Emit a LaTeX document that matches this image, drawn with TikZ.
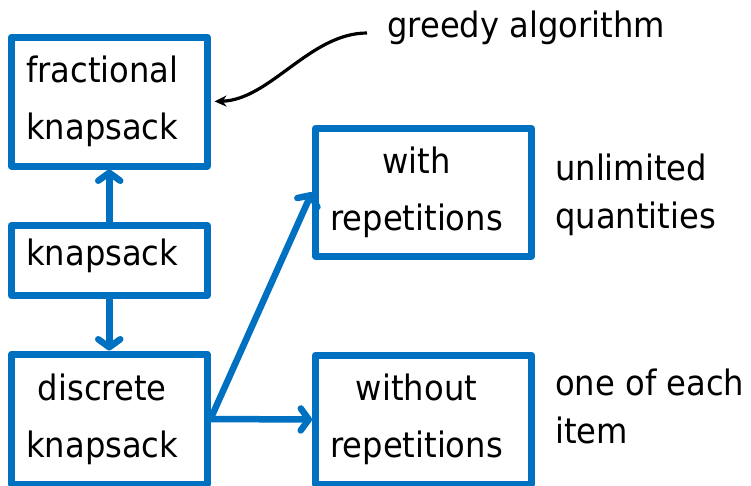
\documentclass[tikz,border=0pt]{standalone}
\usepackage{fontspec}
\setmainfont{DejaVu Sans}[FakeStretch=0.92]
\usetikzlibrary{arrows.meta}
\definecolor{pblue}{RGB}{0,112,192}
\newcommand{\lsh}{\hspace*{14pt}}
\begin{document}
\begin{tikzpicture}[x=1pt,y=-1pt,
  box/.style={draw=pblue, line width=7pt, line join=round, rectangle, inner sep=0pt,
    align=center, font=\fontsize{35}{57}\selectfont},
  lab/.style={anchor=base west, align=left, inner sep=0pt, font=\fontsize{35}{48}\selectfont},
  conn/.style={draw=pblue, line width=6.5pt,
    -{Straight Barb[length=8pt,width=22pt,line cap=round,line join=round]}},
  note/.style={draw=black, line width=3.2pt, -{Stealth[length=12pt,width=11pt]}}]
\useasboundingbox (0,0) rectangle (751,485);
\node[box, minimum width=195.5pt, minimum height=129pt] (A) at (109.25,101.5) {fractional\lsh\\knapsack\lsh};
\node[box, minimum width=195.5pt, minimum height=70pt, text depth=16pt] (B) at (109.25,260.5) {knapsack\lsh};
\node[box, minimum width=195.5pt, minimum height=130pt] (C) at (109.25,419) {discrete\lsh\\knapsack\lsh};
\node[box, minimum width=216pt, minimum height=127.5pt] (D) at (423.5,192.25) {with\lsh\\repetitions\lsh};
\node[box, minimum width=216pt, minimum height=129pt] (E) at (423.5,419.5) {without\lsh\\repetitions\lsh};
\node[lab] (g) at (387,37) {greedy algorithm};
\node[lab] (u) at (555,228) {unlimited\\quantities};
\node[lab] (o) at (555,443) {one of each\\item};
\coordinate (gs) at (367,33);
\draw[conn] (B.north) -- (A.south);
\draw[conn] (B.south) -- (C.north);
\draw[conn] (C.east) -- (D.west);
\draw[conn] (C.east) -- (E.west);
\draw[note, shorten >=4pt] (gs) .. controls (310,33) and (270,100) .. (A.east);
\end{tikzpicture}
\end{document}
